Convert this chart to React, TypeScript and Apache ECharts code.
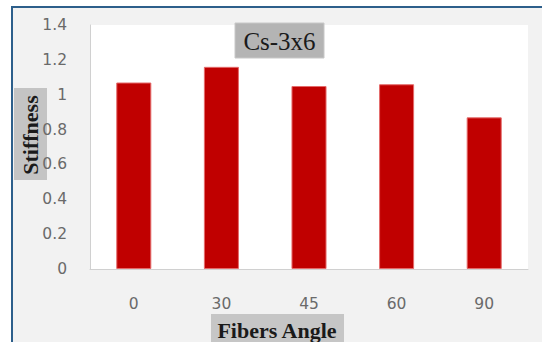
import React, { useEffect, useRef } from "react";
import * as echarts from "echarts";

// Fiber orientation angles (degrees) and measured stiffness for the Cs-3x6 specimen
const categories: string[] = ["0", "30", "45", "60", "90"];
const stiffness: number[] = [1.07, 1.16, 1.05, 1.06, 0.87];

const chartTitle = "Cs-3x6";
const xTitle = "Fibers Angle";
const yTitle = "Stiffness";

const yMin = 0;
const yMax = 1.4;
const yStep = 0.2;

const serif = "'Liberation Serif', 'Times New Roman', serif";
const sans = "'DejaVu Sans', Verdana, sans-serif";

export default function App() {
  const ref = useRef<HTMLDivElement | null>(null);

  useEffect(() => {
    if (!ref.current) return;
    const chart = echarts.init(ref.current, undefined, { renderer: "svg" });

    chart.setOption({
      animation: false,
      backgroundColor: "#ffffff",
      grid: {
        left: 90,
        right: 14,
        top: 25,
        bottom: 73,
        show: true,
        backgroundColor: "#ffffff",
        borderWidth: 0,
      },
      xAxis: {
        type: "category",
        data: categories,
        axisLine: { show: true, lineStyle: { color: "#d0d0d0", width: 1 } },
        axisTick: { show: false },
        axisLabel: {
          color: "#6a6a6a",
          fontFamily: sans,
          fontSize: 15.5,
          margin: 27,
        },
        splitLine: { show: false },
      },
      yAxis: {
        type: "value",
        min: yMin,
        max: yMax,
        interval: yStep,
        axisLine: { show: true, lineStyle: { color: "#d0d0d0", width: 1 } },
        axisTick: { show: false },
        axisLabel: {
          color: "#6a6a6a",
          fontFamily: sans,
          fontSize: 15.5,
          margin: 23,
        },
        splitLine: { show: false },
      },
      series: [
        {
          type: "bar",
          data: stiffness,
          barWidth: "40%",
          itemStyle: {
            color: "#c00000",
            borderColor: "#e46a6a",
            borderWidth: 1,
          },
        },
      ],
      graphic: [
        {
          type: "rect",
          z: -10,
          shape: { x: 12, y: 7, width: 560, height: 360 },
          style: { fill: "#f2f2f2", stroke: "#2d5f8b", lineWidth: 2 },
        },
        {
          type: "group",
          z: 100,
          children: [
            {
              type: "rect",
              shape: { x: 235, y: 23, width: 89, height: 35 },
              style: { fill: "#b4b4b4", stroke: "#c8c8c8", lineWidth: 1 },
            },
            {
              type: "text",
              x: 279.5,
              y: 41,
              style: {
                text: chartTitle,
                font: `25px ${serif}`,
                fill: "#1a1a1a",
                align: "center",
                verticalAlign: "middle",
              },
            },
          ],
        },
        {
          type: "group",
          z: 100,
          children: [
            {
              type: "rect",
              shape: { x: 211, y: 314, width: 133, height: 40 },
              style: { fill: "#c6c6c6" },
            },
            {
              type: "text",
              x: 277,
              y: 331.5,
              scaleX: 1.1,
              style: {
                text: xTitle,
                font: `bold 20px ${serif}`,
                fill: "#1a1a1a",
                align: "center",
                verticalAlign: "middle",
              },
            },
          ],
        },
        {
          type: "group",
          z: 100,
          children: [
            {
              type: "rect",
              shape: { x: 14, y: 88, width: 33, height: 92 },
              style: { fill: "#c4c4c4" },
            },
            {
              type: "text",
              x: 31.5,
              y: 135,
              rotation: Math.PI / 2,
              scaleX: 1.1,
              style: {
                text: yTitle,
                font: `bold 20px ${serif}`,
                fill: "#1a1a1a",
                align: "center",
                verticalAlign: "middle",
              },
            },
          ],
        },
      ],
    });

    return () => {
      chart.dispose();
    };
  }, []);

  return (
    <div
      ref={ref}
      style={{ position: "fixed", left: 0, top: 0, width: 542, height: 342 }}
    />
  );
}
